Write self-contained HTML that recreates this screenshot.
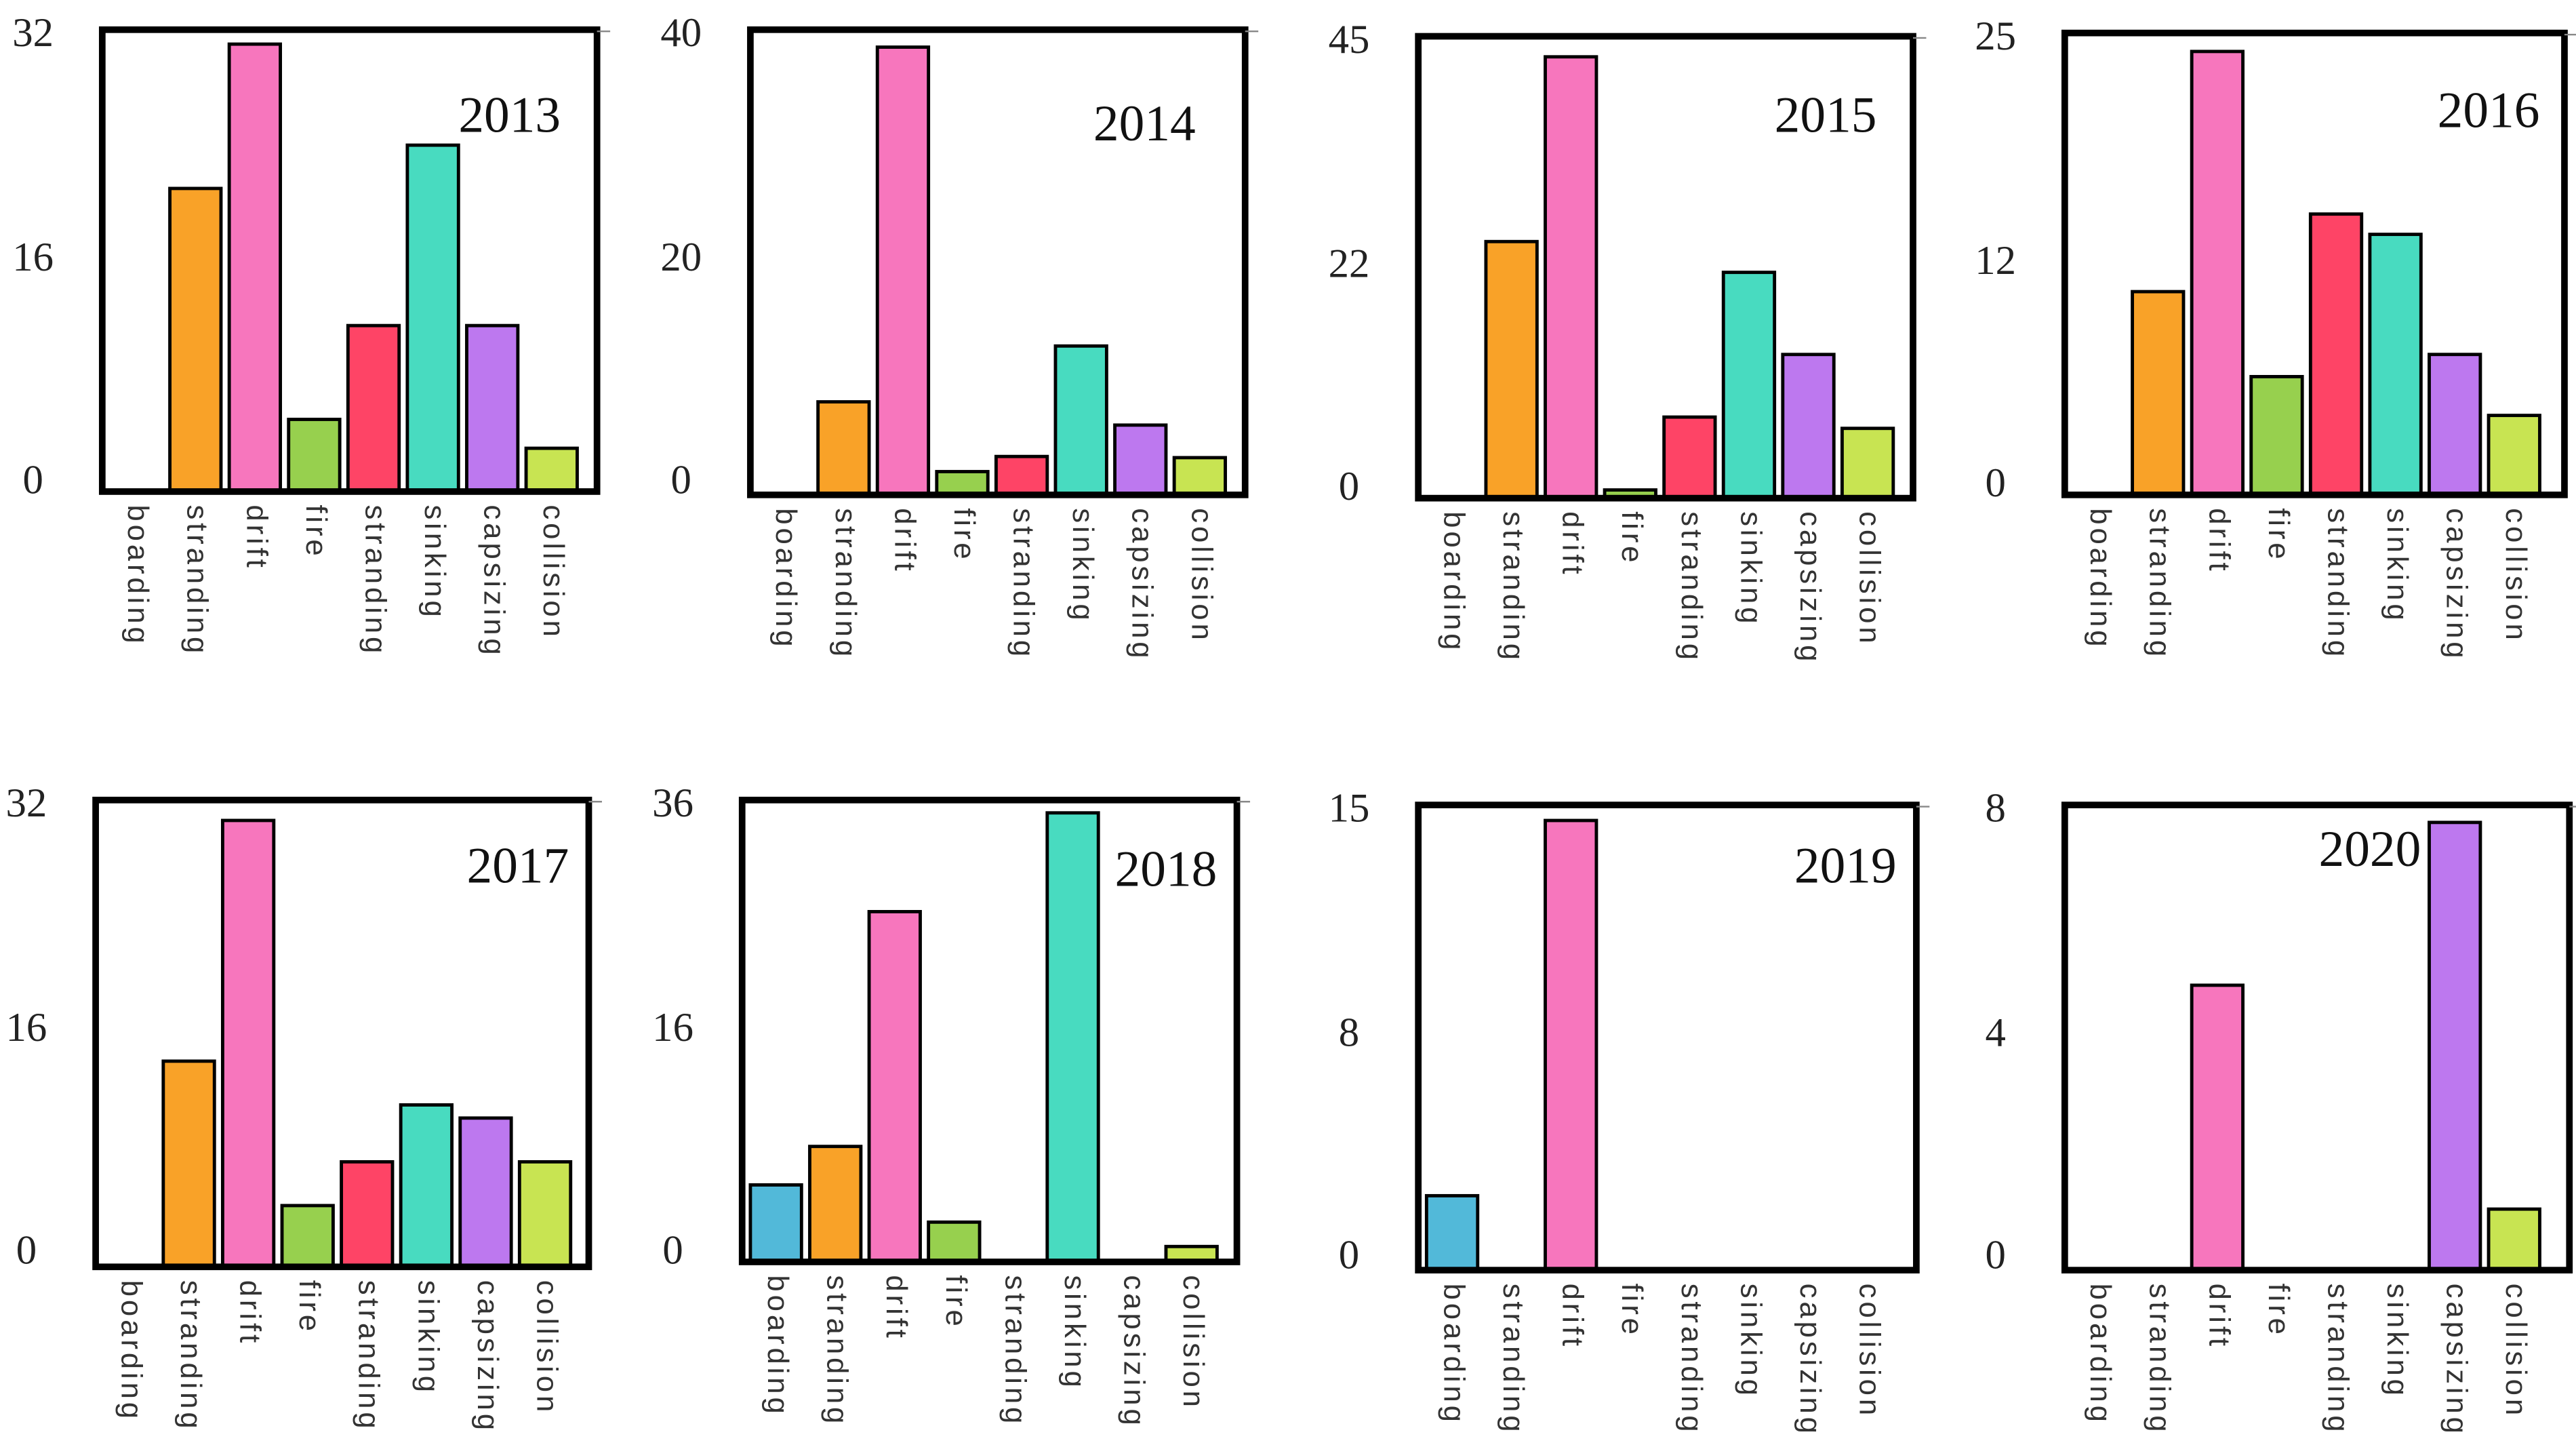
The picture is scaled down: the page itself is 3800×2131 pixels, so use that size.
<!DOCTYPE html>
<html><head><meta charset="utf-8"><style>
html,body{margin:0;padding:0;background:#fff;}
svg{display:block;}
</style></head><body>
<svg id="chart" width="3800" height="2131" viewBox="0 0 1562 876" preserveAspectRatio="none" xmlns="http://www.w3.org/2000/svg"></svg>
<script>
const categories = ["boarding","stranding","drift","fire","stranding","sinking","capsizing","collision"];
const colors = ["#52b9d9","#f9a228","#f776bd","#97d04e","#fe4466","#48dbc0","#bd78ef","#c8e452"];
const years = ["2013","2014","2015","2016","2017","2018","2019","2020"];
const maxVals = [32,40,45,25,32,36,15,8];
const midVals = [16,20,22,12,16,16,8,4];
const v2013 = [0,21,31,5,11.5,24,11.5,3];
const v2014 = [0,8,38.5,2,3.3,12.8,6,3.2];
const v2015 = [0,25,43,0.8,7.9,22,14,6.8];
const v2016 = [0,11,24,6.4,15.2,14.1,7.6,4.3];
const v2017 = [0,14.1,30.6,4.2,7.2,11.1,10.2,7.2];
const v2018 = [6,9,27.3,3.1,0,35,0,1.2];
const v2019 = [2.4,0,14.5,0,0,0,0,0];
const v2020 = [0,0,4.9,0,0,0,7.7,1.05];
const series = [v2013,v2014,v2015,v2016,v2017,v2018,v2019,v2020];
const boxes = [[62,18,362,298],[455,18,755,300],[860,22,1160,302],[1252,20,1555,300],
               [58,485,357,768],[450,485,750,765],[860,488,1162,770],[1252,488,1558,770]];
const yearPos = [[340,80],[725,85],[1138,80],[1540,77],[345,535],[738,537],[1150,535],[1468,525]];
const NS="http://www.w3.org/2000/svg";
const svg=document.getElementById('chart');
function mk(tag,attrs,parent){const e=document.createElementNS(NS,tag);for(const k in attrs)e.setAttribute(k,attrs[k]);(parent||svg).appendChild(e);return e;}
series.forEach((vals,p)=>{
  const [x0,y0,x1,y1]=boxes[p];
  const g=mk('g',{});
  
  
  const yScale=v=>y1-(v/maxVals[p])*(y1-y0);
  const tickVals=[maxVals[p],midVals[p],0];
  const tickOff=[2,138,273];
  tickVals.forEach((t,k)=>{
    const tx=mk('text',{x:x0-42,y:y0+tickOff[k]+8,'text-anchor':'middle','font-family':'"Liberation Serif",serif','font-size':25,fill:'#222'},g);
    tx.textContent=t;
    
    
  });
  vals.forEach((v,i)=>{
    const bx=x0+5+i*36;
    const by=yScale(v);
    const r=mk('rect',{x:bx,y:by,width:31,height:Math.max(0,y1-by),fill:colors[i],stroke:'#000','stroke-width':2},g);
    
    
    const lx=bx+15.5;
    const lt=mk('text',{x:lx,y:y1+8,transform:`rotate(90 ${lx} ${y1+8})`,'font-family':'"Liberation Sans",sans-serif','font-size':18,fill:'#333','dominant-baseline':'middle','letter-spacing':'2'},g);
    lt.textContent=categories[i];
    
    
  });
  const f=mk('rect',{x:x0,y:y0,width:x1-x0,height:y1-y0,fill:'none',stroke:'#000','stroke-width':4},g);
  
  
  mk('line',{x1:x1,y1:y0+1,x2:x1+8,y2:y0+1,stroke:'#888','stroke-width':1},g);
  const yt=mk('text',{x:yearPos[p][0],y:yearPos[p][1],'text-anchor':'end','font-family':'"Liberation Serif",serif','font-size':31,fill:'#111'},g);
  yt.textContent=years[p];
  
  
});
</script>
</body></html>
